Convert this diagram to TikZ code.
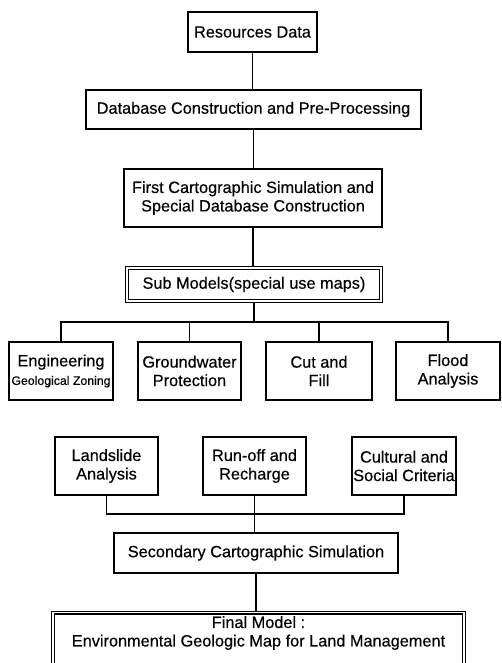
\documentclass[tikz,border=0pt]{standalone}
\usepackage{fontspec}
\setmainfont{Liberation Sans}[FakeBold=0.4]
\begin{document}
\begin{tikzpicture}[x=1pt,y=-1pt,
  box/.style={draw, line width=1.3pt, inner sep=0pt, align=center,
    font=\fontsize{16.3}{18.5}\selectfont},
  dbox/.style={box, double=white, line width=1.1pt, double distance=1.8pt},
  link/.style={line width=1.3pt}]
\clip (0,0) rectangle (502,663);
\node[box, minimum width=129, minimum height=40] (res) at (252.5,32) {Resources Data};
\node[box, minimum width=335, minimum height=39] (db) at (253.5,109.5) {Database Construction and Pre-Processing};
\node[box, minimum width=258, minimum height=58] (first) at (253,198) {First Cartographic Simulation and\\Special Database Construction};
\node[dbox, minimum width=254, minimum height=33] (sub) at (254,284.5) {Sub Models(special use maps)};
\node[box, minimum width=104, minimum height=58] (e1) at (61,371) {Engineering\\{\fontsize{12.3}{16}\selectfont Geological Zoning}};
\node[box, minimum width=103, minimum height=58] (e2) at (189.5,371) {Groundwater\\Protection};
\node[box, minimum width=106, minimum height=58] (e3) at (319,371) {Cut and\\Fill};
\node[box, minimum width=104, minimum height=58] (e4) at (448,371) {Flood\\Analysis};
\node[box, minimum width=103, minimum height=58] (l1) at (106.5,466) {Landslide\\Analysis};
\node[box, minimum width=103, minimum height=58] (l2) at (254.5,466) {Run-off and\\Recharge};
\node[box, minimum width=104, minimum height=58] (l3) at (404,466) {Cultural and\\Social Criteria};
\node[box, minimum width=284, minimum height=40] (sec) at (256,553) {Secondary Cartographic Simulation};
\node[dbox, minimum width=411, minimum height=70, anchor=north] (fin) at (258.5,612) {};
\node[align=center, inner sep=0pt, font=\fontsize{16.3}{18.5}\selectfont] (fintext) at (258.5,633) {Final Model :\\Environmental Geologic Map for Land Management};
\coordinate (bus1) at (254,322);
\coordinate (bus2) at (254.5,514);
\draw[link] (res.south) -- (res.south |- db.north);
\draw[link] (db.south) -- (db.south |- first.north);
\draw[link] (first.south) -- (first.south |- sub.north);
\draw[link] (sub.south) -- (bus1);
\draw[link] (e1.north) |- (bus1) -| (e4.north);
\draw[link] (e2.north) -- (e2.north |- bus1);
\draw[link] (e3.north) -- (e3.north |- bus1);
\draw[link] (l1.south) |- (bus2) -| (l3.south);
\draw[link] (l2.south) -- (bus2);
\draw[link] (bus2) -- (bus2 |- sec.north);
\draw[link] (sec.south) -- (sec.south |- fin.north);
\end{tikzpicture}
\end{document}
